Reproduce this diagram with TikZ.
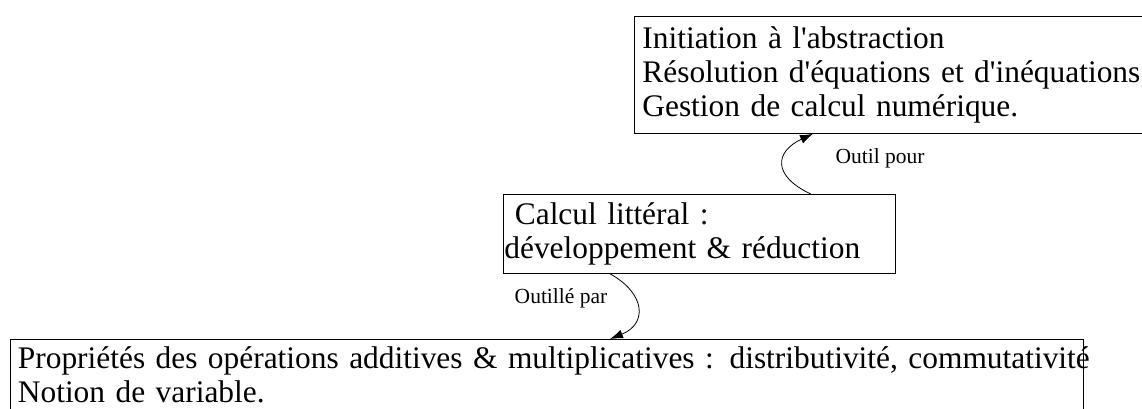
\documentclass[tikz,border=0pt]{standalone}
\usepackage{fontspec}
\setmainfont{Liberation Serif}[Ligatures=TeXOff]
\usetikzlibrary{calc, positioning, arrows.meta}
\tikzset{
    concept box/.style={draw, line width=0.8pt, align=left, font=\fontsize{31.4}{34}\selectfont},
    link label/.style={font=\fontsize{21.5}{23}\selectfont, inner sep=0pt},
    tool link/.style={line width=0.8pt, -{Latex[length=13pt,width=9pt]}},
}

\begin{document}
\begin{tikzpicture}[x=1pt, y=1pt]
\useasboundingbox (0,0) rectangle (1142,409);
\clip (0,0) rectangle (1142,409);

\node[concept box, anchor=north west, text width=524pt, minimum height=117pt, inner xsep=8pt] (goals) at (634,393)
    {Initiation à l'abstraction\\Résolution d'équations et d'inéquations\\Gestion de calcul numérique.};

\node[concept box, anchor=north west, text width=390pt, minimum height=79pt, inner xsep=1pt] (litteral) at (503,215)
    {~Calcul littéral :\\développement \& réduction};

\node[concept box, anchor=north west, text width=1058pt, inner xsep=7.5pt, inner ysep=7pt] (props) at (10,70)
    {\mbox{Propriétés des opérations additives \& multiplicatives : distributivité, commutativité}\\Notion de variable.};

% links
\draw[tool link] ([xshift=-85pt]litteral.north east) to[out=155, in=205, looseness=1.8] ([xshift=179pt]goals.south west);
\draw[tool link] ([xshift=107pt]litteral.south west) to[out=-29, in=22, looseness=1.6] ([xshift=600pt]props.north west);

\node[link label] (pour) at (880,251) {Outil pour};
\node[link label] (par) at (561,111) {Outillé par};

\end{tikzpicture}
\end{document}
